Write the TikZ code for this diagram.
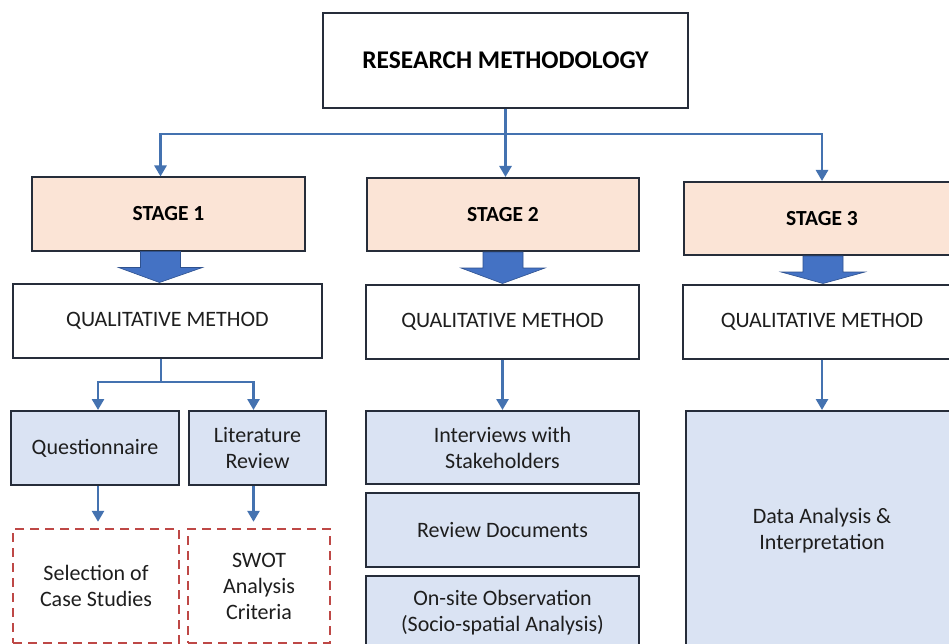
\documentclass[tikz,border=0pt]{standalone}
\usepackage{fontspec}
\setmainfont{Carlito}
\usetikzlibrary{arrows.meta,calc}
\definecolor{linkblue}{RGB}{68,114,176}
\definecolor{fatblue}{RGB}{68,114,196}
\definecolor{fatedge}{RGB}{47,82,143}
\definecolor{stagefill}{RGB}{251,228,214}
\definecolor{taskfill}{RGB}{218,227,243}
\definecolor{boxedge}{RGB}{38,45,58}
\definecolor{outred}{RGB}{190,72,70}
\definecolor{txt}{RGB}{30,30,30}
\tikzstyle{box}=[draw=boxedge,line width=2pt,inner sep=2pt,align=center,text=txt,font=\fontsize{22}{26}\selectfont]
\tikzstyle{titlebox}=[box,fill=white,text=black,font=\fontsize{25.5}{30}\selectfont\bfseries]
\tikzstyle{stagebox}=[box,fill=stagefill,text=black,font=\fontsize{21.5}{26}\selectfont\bfseries]
\tikzstyle{methodbox}=[box,fill=white,font=\fontsize{22}{26}\selectfont]
\tikzstyle{taskbox}=[box,fill=taskfill]
\tikzstyle{outbox}=[draw=outred,line width=2.4pt,dash pattern=on 9pt off 6pt,inner sep=2pt,align=center,text=txt,font=\fontsize{22}{26}\selectfont]
\tikzstyle{link}=[draw=linkblue,line width=2.6pt,-{Triangle[width=12pt,length=11pt]}]
\tikzstyle{fatarrow}=[fill=fatblue,draw=fatedge,line width=0.6pt]

\begin{document}
\begin{tikzpicture}[x={(1pt,0)},y={(0,-1pt)}]
  \clip (0,0) rectangle (949,644);
  \fill[white] (0,0) rectangle (949,644);

% Title
  \node[titlebox,minimum width=365pt,minimum height=95pt] (rm) at (505.5,60.5) {RESEARCH METHODOLOGY};

%layer 1: stages
  \foreach \pos/\name/\w/\label in {{(168.5,214)/s1/273/STAGE 1}, {(503,214.5)/s2/272/STAGE 2}, {(822,218.5)/s3/276/STAGE 3}}
    \node[stagebox,minimum width=\w pt,minimum height=73pt] (\name) at \pos {\label};

%layer 2: methods
  \foreach \pos/\name/\w in {{(167.5,320.5)/q1/309}, {(502.5,321.5)/q2/273}, {(822,321.5)/q3/278}}
    \node[methodbox,minimum width=\w pt,minimum height=74pt] (\name) at \pos {QUALITATIVE METHOD};

%layer 3: tasks
  \foreach \pos/\name/\w/\h/\label in {{(95,448)/quest/168/74/Questionnaire}, {(257.5,448)/lit/137/74/Literature\\Review},
      {(502.5,447.5)/intv/273/73/Interviews with\\Stakeholders}, {(502.5,530)/rev/273/74/Review Documents},
      {(502.5,613)/obs/273/74/On-site Observation\\(Socio-spatial Analysis)}, {(822,531)/data/272/240/Data Analysis \&\\Interpretation}}
    \node[taskbox,minimum width=\w pt,minimum height=\h pt] (\name) at \pos {\label};

%layer 4: outcomes
  \foreach \pos/\name/\w/\label in {{(96,586)/sel/166/Selection of\\Case Studies}, {(259,586)/swot/142/SWOT\\Analysis\\Criteria}}
    \node[outbox,minimum width=\w pt,minimum height=114pt] (\name) at \pos {\label};

% Connect title with stages
  \coordinate (split) at (505.5,134);
  \draw[link] (rm.south) -- (rm.south |- s2.north);
  \draw[link] (split) -| ([xshift=-8pt]s1.north);
  \draw[link] (split) -| (s3.north);

% Block arrows stage -> method
  \foreach \src/\dst/\dx in {s1/q1/-8, s2/q2/0, s3/q3/1}
    \filldraw[fatarrow] ($(\src.south)+(\dx-20,0)$) -- ($(\src.south)+(\dx+20,0)$) -- ($(\src.south)+(\dx+20,16)$)
      -- ($(\src.south)+(\dx+42,16)$) -- ($(\dst.north)+(\dx,0)$) -- ($(\src.south)+(\dx-42,16)$)
      -- ($(\src.south)+(\dx-20,16)$) -- cycle;

% Stage 1 fork
  \coordinate (fork) at (161,382);
  \draw[draw=linkblue,line width=2.6pt] (fork |- q1.south) -- (fork);
  \draw[link] (fork) -| ([xshift=3pt]quest.north);
  \draw[link] (fork) -| ([xshift=-4pt]lit.north);
  \draw[link,shorten >=6pt] ([xshift=3pt]quest.south) -- ([xshift=3pt]quest.south |- sel.north);
  \draw[link,shorten >=6pt] ([xshift=-4pt]lit.south) -- ([xshift=-4pt]lit.south |- swot.north);

% Stage 2 and 3
  \draw[link] (q2.south) -- (intv.north);
  \draw[link] (q3.south) -- (data.north);
\end{tikzpicture}
\end{document}
